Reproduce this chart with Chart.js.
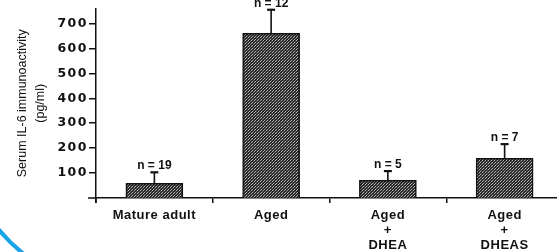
<!DOCTYPE html>
<html>
<head>
<meta charset="utf-8">
<script src="https://cdn.jsdelivr.net/npm/chart.js@4/dist/chart.umd.min.js"></script>
<style>
  html, body { margin: 0; padding: 0; background: #fff; overflow: hidden; }
  #wrap { width: 557px; height: 252px; overflow: hidden; }
</style>
</head>
<body>
<div id="wrap"><canvas id="il6" width="563" height="252"></canvas></div>
<script>
  // valores (pg/ml)
  var groups = [["Mature adult"], ["Aged"], ["Aged", "+", "DHEA"], ["Aged", "+", "DHEAS"]];
  var means = [59, 660, 71, 159];
  var errTops = [103, 755, 108, 216];
  var nLabels = ["n = 19", "n = 12", "n = 5", "n = 7"];
  var yTicks = [100, 200, 300, 400, 500, 600, 700];

  function stipple() {
    var p = document.createElement("canvas");
    p.width = 3; p.height = 3;
    var c = p.getContext("2d");
    c.fillStyle = "#2a2a2a";
    c.fillRect(0, 0, 3, 3);
    c.fillStyle = "#b5b5b5";
    c.fillRect(0, 0, 1, 1);
    c.fillRect(2, 1, 1, 1);
    c.fillStyle = "#707070";
    c.fillRect(1, 2, 1, 1);
    return c.createPattern(p, "repeat");
  }

  // espaçamento entre letras nos rótulos dos eixos, como na figura impressa
  function spaced(scale, px) {
    if (scale._spaced) return;
    var orig = scale.drawLabels;
    scale.drawLabels = function (area) {
      var ctx = this.ctx;
      ctx.save();
      ctx.letterSpacing = px;
      orig.call(this, area);
      ctx.restore();
    };
    scale._spaced = true;
  }

  var extras = {
    id: "extras",
    afterLayout: function (chart) {
      spaced(chart.scales.y, "1.5px");
      spaced(chart.scales.x, "0.5px");
    },
    afterDatasetsDraw: function (chart) {
      var ctx = chart.ctx;
      var x = chart.scales.x, y = chart.scales.y;
      ctx.save();
      ctx.strokeStyle = "#111";
      ctx.fillStyle = "#111";
      ctx.lineWidth = 1.6;
      means.forEach(function (m, i) {
        var cx = x.getPixelForValue(i);
        var top = y.getPixelForValue(errTops[i]);
        ctx.beginPath();
        ctx.moveTo(cx, y.getPixelForValue(m));
        ctx.lineTo(cx, top);
        ctx.stroke();
        ctx.lineWidth = 2.2;
        ctx.beginPath();
        ctx.moveTo(cx - 4, top);
        ctx.lineTo(cx + 4, top);
        ctx.stroke();
        ctx.lineWidth = 1.6;
        ctx.font = "bold 12px 'Liberation Sans', Arial, sans-serif";
        ctx.textAlign = "center";
        ctx.textBaseline = "alphabetic";
        ctx.fillText(nLabels[i], cx, top - 3);
      });
      // prolongamentos dos eixos
      ctx.lineWidth = 1.5;
      ctx.beginPath();
      ctx.moveTo(x.left - 8, y.bottom);
      ctx.lineTo(x.left, y.bottom);
      ctx.moveTo(x.left, y.bottom);
      ctx.lineTo(x.left, y.bottom + 5);
      ctx.stroke();
      ctx.restore();
    },
    afterDraw: function (chart) {
      var ctx = chart.ctx;
      ctx.save();
      ctx.strokeStyle = "#1aa3e8";
      ctx.lineWidth = 4;
      ctx.beginPath();
      ctx.arc(140, 110, 185, Math.PI * 0.66, Math.PI * 0.84);
      ctx.stroke();
      ctx.restore();
    }
  };

  new Chart(document.getElementById("il6"), {
    type: "bar",
    data: {
      labels: groups,
      datasets: [{
        data: means,
        backgroundColor: stipple(),
        borderColor: "#111",
        borderWidth: 1.5,
        barThickness: 57
      }]
    },
    options: {
      responsive: false,
      animation: false,
      layout: { padding: 0 },
      plugins: { legend: { display: false }, tooltip: { enabled: false } },
      scales: {
        x: {
          offset: true,
          border: { color: "#111", width: 1.5 },
          grid: { offset: true, drawOnChartArea: false, color: "#111", lineWidth: 1.5, tickLength: 5 },
          ticks: {
            color: "#111",
            padding: 5,
            maxRotation: 0,
            autoSkip: false,
            font: { family: "'Liberation Sans', Arial, sans-serif", size: 13, weight: "bold", lineHeight: 1.15 }
          },
          afterFit: function (s) { s.height = 54; }
        },
        y: {
          min: 0,
          max: 760,
          border: { color: "#111", width: 1.5 },
          grid: { drawOnChartArea: false, color: "#111", lineWidth: 1.5, tickLength: 7 },
          afterBuildTicks: function (s) { s.ticks = yTicks.map(function (v) { return { value: v }; }); },
          ticks: {
            color: "#111",
            padding: 1,
            font: { family: "'DejaVu Sans', sans-serif", size: 12.5, weight: "bold" }
          },
          title: {
            display: true,
            text: ["Serum IL-6 immunoactivity", "(pg/ml)"],
            color: "#111",
            padding: { top: 14, bottom: 0 },
            font: { family: "'Liberation Sans Narrow', 'Liberation Sans', sans-serif", size: 12.5, lineHeight: 1.4 }
          },
          afterFit: function (s) { s.width = 96; }
        }
      }
    },
    plugins: [extras]
  });
</script>
</body>
</html>
